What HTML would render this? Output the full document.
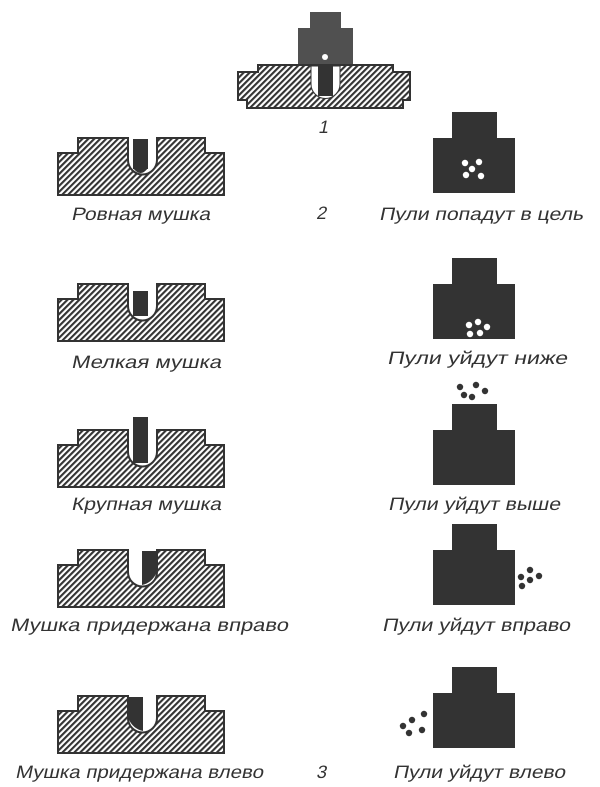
<!DOCTYPE html>
<html><head><meta charset="utf-8">
<style>html,body{margin:0;padding:0;background:#fff}svg{display:block}
.t{font-family:"Liberation Sans",sans-serif;font-size:18px;fill:#333}</style></head>
<body>
<svg width="600" height="787" viewBox="0 0 600 787" xmlns="http://www.w3.org/2000/svg">
<defs>
<pattern id="h" patternUnits="userSpaceOnUse" width="4.2" height="4.2" patternTransform="rotate(45)">
<rect width="4.2" height="4.2" fill="#fff"/>
<rect width="2.1" height="4.2" fill="#333"/>
</pattern>
<g id="sight">
<path d="M0,15 H20 V0 H70 V22 A14.5 14.5 0 0 0 99,22 V0 H147 V15 H166 V57 H0 Z" fill="url(#h)" stroke="#333" stroke-width="2"/>
</g>
<g id="tgt">
<path d="M19,0 H64 V26 H82 V81 H0 V26 H19 Z" fill="#333"/>
</g>
</defs>

<!-- Figure 1 -->
<path d="M310,12 H341 V28 H353 V70 H298 V28 H310 Z" fill="#505050"/>
<path d="M258,65 H393 V72 H410 V100 H403 V108 H247 V100 H238 V72 H258 Z" fill="url(#h)" stroke="#333" stroke-width="2"/>
<path d="M311,66 V84 A14.5 14.5 0 0 0 340,84 V66 Z" fill="#fff" stroke="#333" stroke-width="1"/>
<path d="M318,66 H333 V96 H318 Z" fill="#333"/>
<circle cx="325" cy="57" r="3" fill="#fff"/>
<text class="t" transform="translate(318,133) skewX(-12)">1</text>

<!-- Row 1 -->
<use href="#sight" x="58" y="138"/>
<rect x="133" y="139" width="15" height="30" fill="#333"/>
<path d="M133,168 Q140.5,178 148,168 Z" fill="#333"/>
<use href="#tgt" x="433" y="112"/>
<g fill="#fff"><circle cx="465" cy="163" r="3.2"/><circle cx="479" cy="162" r="3.2"/><circle cx="472" cy="169" r="3.2"/><circle cx="466" cy="175" r="3.2"/><circle cx="481" cy="176" r="3.2"/></g>

<!-- Row 2 -->
<use href="#sight" x="58" y="284"/>
<rect x="133" y="291" width="15" height="25" fill="#333"/>
<use href="#tgt" x="433" y="258"/>
<g fill="#fff"><circle cx="469" cy="325" r="3.2"/><circle cx="478" cy="322" r="3.2"/><circle cx="487" cy="327" r="3.2"/><circle cx="470" cy="334" r="3.2"/><circle cx="480" cy="333" r="3.2"/></g>

<!-- Row 3 -->
<use href="#sight" x="58" y="430"/>
<rect x="133" y="417" width="15" height="46" fill="#333"/>
<use href="#tgt" x="433" y="404"/>
<g fill="#333"><circle cx="460" cy="387" r="3.2"/><circle cx="476" cy="385" r="3.2"/><circle cx="485" cy="391" r="3.2"/><circle cx="464" cy="395" r="3.2"/><circle cx="472" cy="397" r="3.2"/></g>

<!-- Row 4 -->
<use href="#sight" x="58" y="550"/>
<path d="M142,551 H157 V572 Q152,583 142,585 Z" fill="#333"/>
<use href="#tgt" x="433" y="524"/>
<g fill="#333"><circle cx="530" cy="570" r="3.2"/><circle cx="521" cy="577" r="3.2"/><circle cx="530" cy="580" r="3.2"/><circle cx="539" cy="576" r="3.2"/><circle cx="522" cy="586" r="3.2"/></g>

<!-- Row 5 -->
<use href="#sight" x="58" y="696"/>
<path d="M128,697 H143 V731 Q133,729 128,718 Z" fill="#333"/>
<use href="#tgt" x="433" y="667"/>
<g fill="#333"><circle cx="412" cy="720" r="3.2"/><circle cx="424" cy="714" r="3.2"/><circle cx="403" cy="726" r="3.2"/><circle cx="409" cy="733" r="3.2"/><circle cx="422" cy="730" r="3.2"/></g>

<text class="t" transform="translate(71,220) skewX(-12)" textLength="139" lengthAdjust="spacingAndGlyphs">Ровная мушка</text>
<text class="t" transform="translate(316,219) skewX(-12)">2</text>
<text class="t" transform="translate(379,220) skewX(-12)" textLength="204" lengthAdjust="spacingAndGlyphs">Пули попадут в цель</text>
<text class="t" transform="translate(71,368) skewX(-12)" textLength="150" lengthAdjust="spacingAndGlyphs">Мелкая мушка</text>
<text class="t" transform="translate(387,364) skewX(-12)" textLength="180" lengthAdjust="spacingAndGlyphs">Пули уйдут ниже</text>
<text class="t" transform="translate(71,510) skewX(-12)" textLength="150" lengthAdjust="spacingAndGlyphs">Крупная мушка</text>
<text class="t" transform="translate(388,510) skewX(-12)" textLength="172" lengthAdjust="spacingAndGlyphs">Пули уйдут выше</text>
<text class="t" transform="translate(10,631) skewX(-12)" textLength="278" lengthAdjust="spacingAndGlyphs">Мушка придержана вправо</text>
<text class="t" transform="translate(382,631) skewX(-12)" textLength="188" lengthAdjust="spacingAndGlyphs">Пули уйдут вправо</text>
<text class="t" transform="translate(15,778) skewX(-12)" textLength="248" lengthAdjust="spacingAndGlyphs">Мушка придержана влево</text>
<text class="t" transform="translate(316,778) skewX(-12)">3</text>
<text class="t" transform="translate(393,778) skewX(-12)" textLength="172" lengthAdjust="spacingAndGlyphs">Пули уйдут влево</text>
</svg>
</body></html>
